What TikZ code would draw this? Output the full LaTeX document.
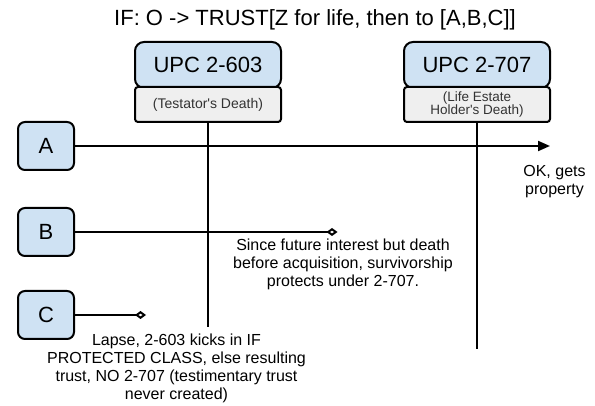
\documentclass[tikz,border=0pt]{standalone}
\usepackage{fontspec}
\newfontfamily\arial{Liberation Sans}
\usetikzlibrary{arrows.meta}
\definecolor{boxblue}{HTML}{CFE2F3}
\definecolor{boxgray}{HTML}{EFEFEF}

\begin{document}
\begin{tikzpicture}[x=1pt,y=-1pt,
  lettbox/.style={draw=black, line width=2pt, fill=boxblue, rounded corners=7pt,
    minimum width=56pt, minimum height=48pt, inner sep=0pt,
    font=\arial\fontsize{22}{26}\selectfont},
  lawbox/.style={draw=black, line width=2pt, fill=boxblue, rounded corners=9pt,
    minimum width=146pt, minimum height=46pt, inner sep=0pt,
    font=\arial\fontsize{22}{26}\selectfont},
  whenbox/.style={draw=black, line width=2pt, fill=boxgray, rounded corners=3pt,
    minimum width=146pt, minimum height=35pt, inner sep=0pt, align=center,
    text=black!80},
  note/.style={align=center, inner sep=0pt, font=\arial\fontsize{16}{18}\selectfont},
  wire/.style={line width=2pt, draw=black},
  endtip/.style={-{Triangle[length=12pt,width=10pt]}},
  stoptip/.style={-{Diamond[length=11pt,width=8pt,fill=white]}}
]
\useasboundingbox (0,0) rectangle (595,406);

% heading
\node[inner sep=0pt, font=\arial\fontsize{22}{26}\selectfont] (title) at (315,20)
  {IF: O -> TRUST[Z for life, then to [A,B,C]]};

% statutes and their trigger events
\node[lawbox] (upcA) at (208,65) {UPC 2-603};
\node[whenbox, font=\arial\fontsize{14}{15}\selectfont] (whenA) at (208,104.5)
  {(Testator's Death)};
\node[lawbox] (upcB) at (477,65) {UPC 2-707};
\node[whenbox, font=\arial\fontsize{13.5}{13.5}\selectfont] (whenB) at (477,104.5)
  {(Life Estate\\Holder's Death)};

% beneficiaries
\node[lettbox] (A) at (46,146) {A};
\node[lettbox] (B) at (46,232) {B};
\node[lettbox] (C) at (46,315) {C};

% free ends of the connectors
\coordinate (endA) at (208,327);
\coordinate (endB) at (477,349);
\coordinate (aEnd) at (550,146);
\coordinate (bEnd) at (337.5,232);
\coordinate (cEnd) at (146,315);

% time lines of the two statutes
\draw[wire] (whenA.south) -- (endA);
\draw[wire] (whenB.south) -- (endB);

% outcomes per beneficiary
\draw[wire, endtip] (A) -- (aEnd);
\draw[wire, stoptip] (B) -- (bEnd);
\draw[wire, stoptip] (C) -- (cEnd);

% explanations
\node[note] (okNote) at (554.5,181.5) {OK, gets\\property};
\node[note] (bNote) at (343,264.5)
  {Since future interest but death\\before acquisition, survivorship\\protects under 2-707.};
\node[note] (cNote) at (176.5,368)
  {Lapse, 2-603 kicks in IF\\PROTECTED CLASS, else resulting\\trust, NO 2-707 (testimentary trust\\never created)};
\end{tikzpicture}
\end{document}
